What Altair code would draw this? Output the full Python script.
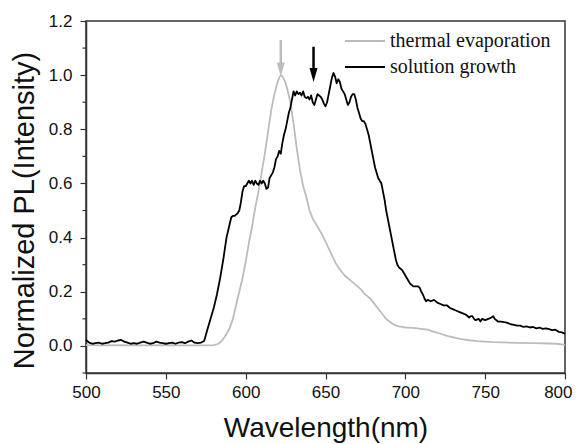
import altair as alt
import pandas as pd

# ---- data ----
series_names = ["thermal evaporation", "solution growth"]
series_colors = ["#bcbcbc", "#000000"]

sol_wl = [500, 502, 504, 506, 508, 510, 512, 514, 516, 518, 520, 522, 524, 526, 528, 530, 532, 534, 536, 538,
          540, 542, 544, 546, 548, 550, 552, 554, 556, 558, 560, 562, 564, 566, 568, 570, 572, 574,
          576, 578, 580, 582, 584, 586, 588, 590,
          591, 592, 593, 594, 595, 596, 597, 598, 599, 600, 601, 602, 603, 604, 605, 606, 607, 608, 609, 610,
          611, 612, 613, 614, 615, 616, 617, 618, 619, 620, 621, 622, 623, 624, 625, 626, 627, 628, 629, 630,
          631, 632, 633, 634, 635, 636, 637, 638, 639, 640, 641, 642, 643, 644, 645, 646, 647, 648, 649, 650,
          651, 652, 653, 654, 655, 656, 657, 658, 659, 660, 661, 662, 663, 664, 665, 666, 667, 668, 669, 670,
          671, 672, 673, 674, 675, 676, 677, 678, 679, 680, 681, 682, 683, 684, 685, 686, 687, 688, 689, 690,
          691, 692, 693, 694, 695, 696, 697, 698, 699, 700, 701, 702, 703, 704, 705, 706, 707, 708, 709, 710,
          711, 712, 713,
          714, 716, 718, 720, 722, 724, 726, 728, 730, 732, 734, 736, 738, 740, 741, 742, 743, 744, 746, 747,
          748, 750, 752, 754, 755, 756, 758, 760, 762, 764, 766, 768, 770, 772, 774, 776, 778, 780, 782, 784,
          786, 788, 790, 792, 794, 796, 798, 800]
sol_pl = [0.022, 0.012, 0.008, 0.010, 0.012, 0.008, 0.010, 0.012, 0.018, 0.016, 0.020, 0.022, 0.016, 0.012, 0.008, 0.010, 0.008, 0.012, 0.016, 0.012,
          0.008, 0.010, 0.016, 0.012, 0.010, 0.008, 0.010, 0.012, 0.008, 0.012, 0.014, 0.010, 0.016, 0.020, 0.012, 0.010, 0.012, 0.018,
          0.06, 0.10, 0.14, 0.19, 0.25, 0.32, 0.40, 0.45,
          0.475, 0.48, 0.48, 0.485, 0.49, 0.50, 0.53, 0.57, 0.59, 0.59, 0.60, 0.61, 0.60, 0.61, 0.595, 0.61, 0.60, 0.595, 0.61, 0.60,
          0.61, 0.60, 0.58, 0.585, 0.62, 0.63, 0.64, 0.66, 0.69, 0.70, 0.72, 0.71, 0.75, 0.78, 0.80, 0.83, 0.86, 0.88, 0.91, 0.94,
          0.925, 0.94, 0.93, 0.935, 0.925, 0.94, 0.92, 0.915, 0.92, 0.91, 0.925, 0.90, 0.89, 0.91, 0.93, 0.925, 0.92, 0.91, 0.895, 0.885,
          0.90, 0.93, 0.96, 0.99, 1.008, 0.995, 0.97, 0.985, 0.975, 0.95, 0.94, 0.93, 0.91, 0.89, 0.90, 0.92, 0.93, 0.93, 0.91, 0.88,
          0.86, 0.84, 0.83, 0.83, 0.82, 0.80, 0.78, 0.75, 0.72, 0.69, 0.66, 0.64, 0.62, 0.61, 0.60, 0.57, 0.54, 0.50, 0.47, 0.44,
          0.41, 0.38, 0.35, 0.32, 0.30, 0.29, 0.285, 0.28, 0.27, 0.26, 0.25, 0.24, 0.23, 0.225, 0.22, 0.22, 0.22, 0.22, 0.215, 0.20,
          0.19, 0.175, 0.165,
          0.17, 0.165, 0.17, 0.16, 0.155, 0.15, 0.15, 0.14, 0.135, 0.13, 0.125, 0.12, 0.115, 0.105, 0.11, 0.11, 0.10, 0.095, 0.10, 0.09,
          0.10, 0.095, 0.10, 0.105, 0.11, 0.10, 0.09, 0.09, 0.088, 0.085, 0.08, 0.078, 0.075, 0.075, 0.07, 0.072, 0.068, 0.07, 0.065, 0.068,
          0.063, 0.065, 0.062, 0.058, 0.06, 0.052, 0.05, 0.045]

therm_wl = [500, 510, 520, 530, 540, 550, 560, 570, 575, 580, 583, 585, 587, 590, 592, 594, 596, 598, 600,
            602, 604, 606, 608, 610, 612, 614, 616, 618, 620, 621, 622, 623, 624, 625, 626, 628, 630,
            632, 634, 636, 638, 640, 642, 644, 646, 648, 650, 652, 654, 656, 658, 660, 662, 664, 666, 668, 670,
            672, 674, 676, 678, 680, 682, 684, 686, 688, 690, 692, 694, 696, 698, 700, 705, 710, 714, 718, 722,
            726, 730, 735, 740, 745, 750, 755, 760, 770, 780, 790, 795, 800]
therm_pl = [0.003, 0.002, 0.003, 0.002, 0.002, 0.003, 0.002, 0.002, 0.002, 0.003, 0.008, 0.018, 0.035, 0.065, 0.10, 0.15, 0.20, 0.25, 0.31,
            0.38, 0.44, 0.51, 0.57, 0.64, 0.71, 0.79, 0.87, 0.93, 0.975, 0.99, 1.0, 0.995, 0.985, 0.97, 0.95, 0.90, 0.82,
            0.73, 0.65, 0.59, 0.55, 0.50, 0.47, 0.45, 0.43, 0.41, 0.385, 0.36, 0.335, 0.31, 0.29, 0.275, 0.26, 0.25, 0.24, 0.23, 0.22,
            0.21, 0.195, 0.185, 0.175, 0.16, 0.145, 0.13, 0.115, 0.10, 0.09, 0.082, 0.076, 0.072, 0.07, 0.068, 0.067, 0.063, 0.06, 0.052, 0.045,
            0.037, 0.032, 0.025, 0.021, 0.018, 0.016, 0.014, 0.013, 0.011, 0.010, 0.009, 0.008, 0.004]

# peak-marker arrows
arrow_wl = [622, 642.5]
arrow_top = [1.13, 1.105]
arrow_tip = [0.995, 0.975]

x_ticks = [500, 525, 550, 575, 600, 625, 650, 675, 700, 725, 750, 775, 800]
y_major = [0.0, 0.2, 0.4, 0.6, 0.8, 1.0, 1.2]
y_minor = [-0.1, 0.1, 0.3, 0.5, 0.7, 0.9, 1.1]

assert len(sol_wl) == len(sol_pl)
assert len(therm_wl) == len(therm_pl)

# ---- tables ----
df = pd.concat([
    pd.DataFrame({"wl": therm_wl, "pl": therm_pl, "series": series_names[0]}),
    pd.DataFrame({"wl": sol_wl, "pl": sol_pl, "series": series_names[1]}),
])
arrows = pd.DataFrame({"wl": arrow_wl, "top": arrow_top, "tip": arrow_tip,
                       "shaft_end": [t + 0.03 for t in arrow_tip], "series": series_names})
minor_df = pd.DataFrame({"pl": y_minor})
legend_df = pd.DataFrame({"series": series_names})

xscale = alt.Scale(domain=[500, 800], nice=False, zero=False)
yscale = alt.Scale(domain=[-0.1, 1.2], nice=False, zero=False)
cscale = alt.Scale(domain=series_names, range=series_colors)
# legend rows (inside the plot, top right)
legend_rows = alt.Scale(type="point", domain=series_names, range=[20, 46], padding=0)

axis_common = dict(grid=False, domainColor="#333333", domainWidth=1.5, tickColor="#333333",
                   tickWidth=1.2, labelFont="Liberation Sans", labelFontSize=17, labelColor="#111111",
                   titleFont="Liberation Sans", titleFontWeight="normal", titleColor="#111111",
                   labelOverlap=False, labelFlush=False)

x_axis = alt.Axis(values=x_ticks, title="Wavelength(nm)",
                  labelExpr="datum.value % 50 == 0 ? datum.label : ''",
                  tickSize={"condition": {"test": "datum.value % 50 == 0", "value": 6}, "value": 3},
                  labelAlign={"condition": {"test": "datum.value == 800", "value": "right"}, "value": "center"},
                  labelOffset={"condition": {"test": "datum.value == 800", "value": 7}, "value": 0},
                  labelPadding=5, titleFontSize=28, titleBaseline="alphabetic", titleY=63,
                  format="d", **axis_common)
y_axis = alt.Axis(values=y_major, title="Normalized PL(Intensity)", format=".1f",
                  tickSize=6, labelPadding=8, titleFontSize=29, titleBaseline="middle", titleAlign="center",
                  titleX=-62, titleY=189, titleAngle=270, **axis_common)

lines = alt.Chart(df).mark_line(strokeWidth=1.8, strokeJoin="round").encode(
    x=alt.X("wl:Q", scale=xscale, axis=x_axis),
    y=alt.Y("pl:Q", scale=yscale, axis=y_axis),
    color=alt.Color("series:N", scale=cscale, sort=series_names, legend=None),
    order="wl:Q",
    detail="series:N",
)

minor_ticks = alt.Chart(minor_df).mark_rule(color="#333333", strokeWidth=1.2).encode(
    x=alt.value(-3.5), x2=alt.value(0),
    y=alt.Y("pl:Q", scale=yscale),
)

shafts = alt.Chart(arrows).mark_rule(strokeWidth=2.5).encode(
    x=alt.X("wl:Q", scale=xscale),
    y=alt.Y("top:Q", scale=yscale),
    y2="shaft_end:Q",
    color=alt.Color("series:N", scale=cscale, legend=None),
)
heads = alt.Chart(arrows).mark_point(shape="M-1,-3.5L1,-3.5L0,0Z", filled=True, size=64, opacity=1).encode(
    x=alt.X("wl:Q", scale=xscale),
    y=alt.Y("tip:Q", scale=yscale),
    color=alt.Color("series:N", scale=cscale, legend=None),
)

main = alt.layer(lines, minor_ticks, shafts, heads)

# legend drawn as marks in the top-right corner of the plot
leg_lines = alt.Chart(legend_df).mark_rule(strokeWidth=2).encode(
    x=alt.value(259), x2=alt.value(299),
    y=alt.Y("series:N", scale=legend_rows, axis=None),
    color=alt.Color("series:N", scale=cscale, legend=None),
)
leg_text = alt.Chart(legend_df).mark_text(align="left", baseline="alphabetic", dy=6,
                                          font="Liberation Serif", fontSize=20, color="#111111").encode(
    x=alt.value(304),
    y=alt.Y("series:N", scale=legend_rows, axis=None),
    text="series:N",
)
legend = alt.layer(leg_lines, leg_text)

chart = alt.layer(main, legend).resolve_scale(y="independent").resolve_axis(y="independent").properties(
    width=479, height=352,
    autosize=alt.AutoSizeParams(type="none"),
    padding={"left": 78, "top": 13, "right": 8, "bottom": 75},
    background="white",
).configure_view(stroke="#333333", strokeWidth=1.5)

chart.save("out.html", embed_options={"renderer": "svg", "actions": False})
